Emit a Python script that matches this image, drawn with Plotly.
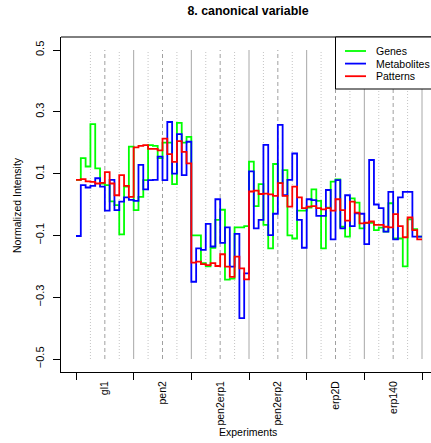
import plotly.graph_objects as go

# Experiment groups, 12 samples each (4 conditions x 3 replicates)
experiments = ["gl1", "pen2", "pen2erp1", "pen2erp2", "erp2D", "erp140"]
samples_per_group = 12

genes = [
    0.080, 0.150, 0.123, 0.260, 0.117, 0.068, 0.063, 0.010, -0.002, -0.097, 0.058, 0.187,
    -0.018, 0.025, 0.079, 0.192, 0.190, 0.150, 0.200, 0.200, 0.066, 0.264, 0.200, 0.219,
    -0.100, -0.100, -0.190, -0.200, -0.140, -0.050, -0.017, -0.243, -0.240, -0.074, -0.074, -0.070,
    0.139, -0.005, 0.066, -0.066, -0.142, 0.131, 0.070, 0.111, -0.100, -0.110, -0.020, -0.020,
    -0.010, 0.049, 0.012, -0.142, -0.010, 0.074, 0.081, -0.072, -0.104, 0.020, 0.006, -0.077,
    -0.060, -0.059, -0.083, -0.075, -0.088, 0.004, -0.110, -0.110, -0.200, -0.048, -0.080, -0.104,
]
metabolites = [
    -0.102, 0.063, 0.055, 0.060, 0.085, 0.058, -0.020, 0.080, -0.018, 0.009, 0.023, 0.015,
    0.012, 0.128, 0.049, 0.079, 0.080, 0.155, 0.079, 0.267, 0.100, 0.228, 0.095, 0.203,
    -0.250, -0.142, -0.147, -0.063, -0.136, 0.017, -0.124, -0.074, -0.201, -0.095, -0.368, -0.223,
    0.107, -0.077, -0.050, 0.193, -0.099, -0.030, 0.258, 0.030, 0.080, 0.165, -0.050, -0.140,
    0.017, 0.014, -0.037, -0.037, 0.047, -0.113, 0.079, -0.077, 0.030, -0.070, -0.029, -0.030,
    -0.128, 0.144, 0.000, -0.012, -0.088, 0.041, -0.113, 0.023, 0.041, 0.041, -0.104, -0.104,
]
patterns = [
    0.080, 0.082, 0.075, 0.073, 0.068, 0.070, 0.105, 0.068, 0.030, 0.095, 0.060, 0.025,
    0.185, 0.190, 0.192, 0.180, 0.180, 0.175, 0.213, 0.163, 0.138, 0.205, 0.170, 0.133,
    -0.188, -0.185, -0.193, -0.196, -0.190, -0.199, -0.161, -0.201, -0.234, -0.169, -0.207, -0.242,
    0.042, 0.045, 0.034, 0.035, 0.033, 0.028, 0.069, 0.028, -0.007, 0.058, 0.023, -0.012,
    -0.007, -0.005, -0.012, -0.016, -0.012, -0.020, 0.017, -0.018, -0.052, 0.009, -0.026, -0.061,
    -0.059, -0.055, -0.066, -0.066, -0.072, -0.074, -0.031, -0.070, -0.106, -0.042, -0.083, -0.113,
]
y_ticks = [-0.5, -0.3, -0.1, 0.1, 0.3, 0.5]

series = [("Genes", genes, "#00ff00"),
          ("Metabolites", metabolites, "#0000ff"),
          ("Patterns", patterns, "#ff0000")]

n = len(genes)
n_groups = len(experiments)
x_steps = list(range(n + 1))

FONT = "Liberation Sans, Arial, sans-serif"

# plot-area geometry in pixels
W, H = 431, 443
L, R, T, B = 61, 0, 37, 71
pw, ph = W - L - R, H - T - B
px_per_unit = 346 / n           # x=0 .. x=72 spans 346 px
x_lo = -(76 - L) / px_per_unit
x_hi = x_lo + pw / px_per_unit
y_pad = 13 / 309
y_lo, y_hi = -0.5 - y_pad, 0.5 + y_pad


def px_x(p):
    return (p - L) / pw


def px_y(p):
    return (H - B - p) / ph


fig = go.Figure()

for name, vals, col in series:
    fig.add_trace(go.Scatter(
        x=x_steps, y=list(vals) + [vals[-1]], mode="lines", name=name,
        line=dict(color=col, width=1.8, shape="hv"), showlegend=False,
        hoverinfo="skip"))

shapes = []
# vertical guides: replicate-block dotted, group middle dashed, group end solid
for g in range(n_groups):
    base = g * samples_per_group
    for off, col, dash in [(3, "#c4c4c4", "1px,2px"), (9, "#c4c4c4", "1px,2px"),
                           (6, "#a0a0a0", "4px,3px"), (12, "#a8a8a8", "solid")]:
        shapes.append(dict(type="line", xref="x", yref="y", x0=base + off, x1=base + off,
                           y0=-0.5, y1=0.5, layer="below",
                           line=dict(color=col, width=1, dash=dash)))

# top border of the plotting box
shapes.append(dict(type="line", xref="paper", yref="paper", x0=0, x1=1.02, y0=1, y1=1,
                   line=dict(color="black", width=1)))

# legend box
shapes.append(dict(type="rect", xref="paper", yref="paper",
                   x0=px_x(335.5), x1=1.03, y0=px_y(89), y1=1,
                   fillcolor="white", line=dict(color="black", width=1), layer="above"))
annotations = []
for k, (name, vals, col) in enumerate(series):
    yy = px_y(51 + 12.6 * k)
    shapes.append(dict(type="line", xref="paper", yref="paper",
                       x0=px_x(345), x1=px_x(366), y0=yy, y1=yy,
                       line=dict(color=col, width=1.8), layer="above"))
    annotations.append(dict(text=name, xref="paper", yref="paper", x=px_x(374), y=yy,
                            xanchor="left", yanchor="middle", showarrow=False,
                            font=dict(family=FONT, size=10.5, color="black")))

# axis titles
annotations.append(dict(text="Experiments", xref="paper", yref="paper",
                        x=px_x(248), y=px_y(432), xanchor="center", yanchor="middle",
                        showarrow=False, font=dict(family=FONT, size=10.5, color="black")))
annotations.append(dict(text="Normalized Intensity", xref="paper", yref="paper",
                        x=px_x(17), y=px_y(205), xanchor="center", yanchor="middle",
                        textangle=-90, showarrow=False,
                        font=dict(family=FONT, size=10.5, color="black")))

fig.update_layout(
    width=W, height=H,
    margin=dict(l=L, r=R, t=T, b=B, pad=0),
    paper_bgcolor="white", plot_bgcolor="white",
    title=dict(text="<b>8. canonical variable</b>", x=px_x(248) * pw / W + L / W,
               xanchor="center", y=1 - 11 / H, yanchor="middle",
               font=dict(family=FONT, size=12.4, color="black")),
    shapes=shapes, annotations=annotations,
    xaxis=dict(range=[x_lo, x_hi], showgrid=False, zeroline=False,
               showline=True, linecolor="black", linewidth=1,
               tickmode="array",
               tickvals=[g * samples_per_group + samples_per_group / 2 for g in range(n_groups)],
               ticktext=experiments, tickangle=-90,
               ticks="outside", ticklen=4, tickcolor="rgba(0,0,0,0)",
               tickfont=dict(family=FONT, size=10.5, color="black"),
               minor=dict(tickmode="array",
                          tickvals=[g * samples_per_group for g in range(n_groups + 1)],
                          ticks="outside", ticklen=7, tickwidth=1, tickcolor="black",
                          showgrid=False)),
    yaxis=dict(range=[y_lo, y_hi], showgrid=False, zeroline=False,
               showline=True, linecolor="black", linewidth=1,
               tickmode="array", tickvals=y_ticks,
               ticktext=[f"{v:.1f}".replace("-", "\u2212") for v in y_ticks],
               tickangle=-90, ticks="outside", ticklen=7, tickwidth=1, tickcolor="black",
               ticklabelstandoff=5,
               tickfont=dict(family=FONT, size=11, color="black")),
    font=dict(family=FONT, color="black"),
)

fig.write_html("out.html")
